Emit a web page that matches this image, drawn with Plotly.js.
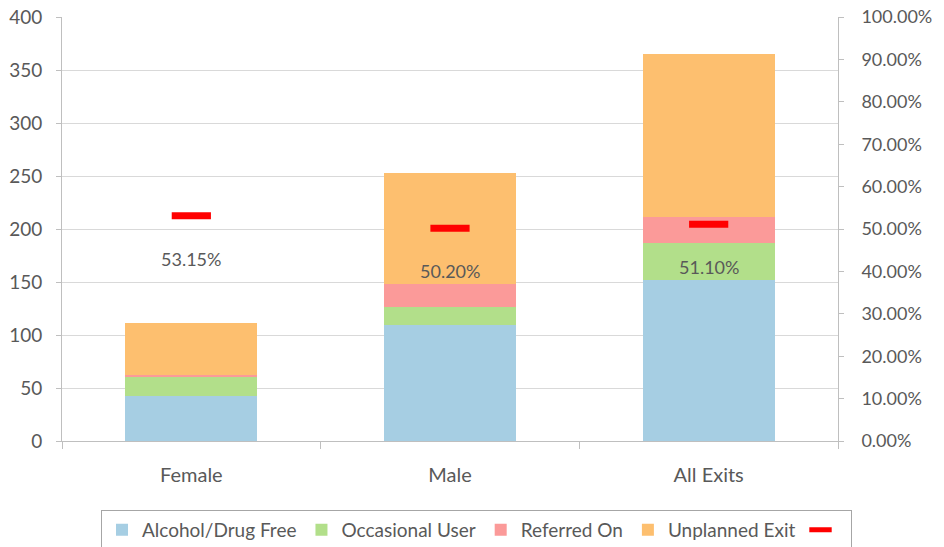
<!DOCTYPE html>
<html>
<head>
<meta charset="utf-8">
<script src="https://cdn.plot.ly/plotly-3.0.1.min.js"></script>
<style>
  html, body { margin: 0; padding: 0; background: #fff; }
  #chart { width: 944px; height: 547px; }
</style>
</head>
<body>
<div id="chart"></div>
<script>
const categories = ["Female", "Male", "All Exits"];
const drugFree = [42, 109, 152];
const occasional = [18, 17, 35];
const referred = [2, 22, 24];
const unplanned = [49, 105, 154];
const successRate = [0.5315, 0.502, 0.511];

const textColor = "#595959";
const axisColor = "#bfbfbf";
const font = "Lato, 'Open Sans', sans-serif";

function barTrace(name, values, color) {
  return {
    type: "bar",
    name: name,
    x: categories,
    y: values,
    marker: { color: color },
    hoverinfo: "name+y",
  };
}

const traces = [
  barTrace("Alcohol/Drug Free", drugFree, "#a6cee3"),
  barTrace("Occasional User", occasional, "#b2df8a"),
  barTrace("Referred On", referred, "#fb9a99"),
  barTrace("Unplanned Exit", unplanned, "#fdbf6f"),
  {
    type: "scatter",
    mode: "markers",
    name: " ",
    x: categories,
    y: successRate,
    yaxis: "y2",
    marker: {
      symbol: "line-ew",
      size: 28,
      color: "#ff0000",
      line: { color: "#ff0000", width: 7 },
    },
  },
];

// percentage labels sit under the red dashes
const labels = categories.map((c, i) => ({
  x: c,
  y: successRate[i],
  xref: "x",
  yref: "y2",
  text: (successRate[i] * 100).toFixed(2) + "%",
  showarrow: false,
  yshift: -43,
  font: { family: font, size: 18, color: textColor },
}));

const layout = {
  width: 944,
  height: 547,
  margin: { l: 62, r: 106, t: 17, b: 106 },
  paper_bgcolor: "#fff",
  plot_bgcolor: "#fff",
  barmode: "stack",
  bargap: 0.49,
  font: { family: font, size: 20, color: textColor },
  showlegend: true,
  legend: {
    orientation: "h",
    xref: "container",
    yref: "container",
    x: 0.107,
    xanchor: "left",
    y: 0.068,
    yanchor: "top",
    bordercolor: "#a6a6a6",
    borderwidth: 1,
    font: { family: font, size: 19, color: textColor },
    traceorder: "normal",
    itemwidth: 30,
  },
  xaxis: {
    type: "category",
    showline: true,
    linecolor: axisColor,
    ticks: "outside",
    tickson: "boundaries",
    ticklen: 7,
    tickcolor: axisColor,
    ticklabelstandoff: 16,
    tickfont: { family: font, size: 20, color: textColor },
    showgrid: false,
  },
  yaxis: {
    range: [0, 400],
    dtick: 50,
    showline: true,
    linecolor: axisColor,
    ticks: "outside",
    ticklen: 5,
    tickcolor: axisColor,
    gridcolor: "#d9d9d9",
    zeroline: false,
    ticklabelstandoff: 10,
    tickfont: { family: font, size: 19, color: textColor },
  },
  yaxis2: {
    overlaying: "y",
    side: "right",
    range: [0, 1],
    dtick: 0.1,
    tickformat: ".2%",
    tickprefix: "\u00a0\u00a0\u00a0",
    showline: true,
    linecolor: axisColor,
    ticks: "outside",
    ticklen: 5,
    tickcolor: axisColor,
    showgrid: false,
    zeroline: false,
    tickfont: { family: font, size: 18, color: textColor },
  },
  annotations: labels,
};

Plotly.newPlot("chart", traces, layout, { displayModeBar: false, staticPlot: true });
</script>
</body>
</html>
